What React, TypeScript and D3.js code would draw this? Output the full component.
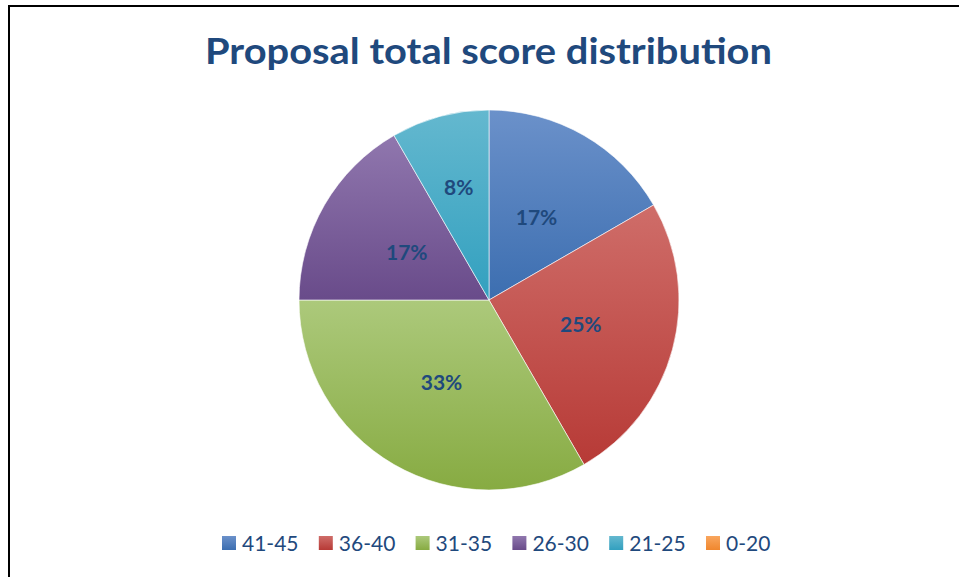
import React, { useEffect, useRef } from "react";
import * as d3 from "d3";

const categories = ["41-45", "36-40", "31-35", "26-30", "21-25", "0-20"];
const counts = [2, 3, 4, 2, 1, 0];
const title = "Proposal total score distribution";

// top / bottom gradient stops per slice (Excel 2007 style)
const colorsTop = ["#6b91ca", "#cf6d69", "#acc97b", "#9077ae", "#64b8cf", "#f9a65e"];
const colorsBottom = ["#3c6eb0", "#b73a36", "#87ab42", "#694b8a", "#32a0bf", "#f0872e"];

const W = 959;
const H = 577;

export default function App() {
  const ref = useRef<SVGSVGElement>(null);

  useEffect(() => {
    const svg = d3.select(ref.current);
    svg.selectAll("*").remove();

    const cx = 489;
    const cy = 300;
    const radius = 190;
    const total = d3.sum(counts);

    const defs = svg.append("defs");
    categories.forEach((c, i) => {
      const g = defs
        .append("linearGradient")
        .attr("id", "grad" + i)
        .attr("x1", 0)
        .attr("y1", 0)
        .attr("x2", 0)
        .attr("y2", 1);
      g.append("stop").attr("offset", "0%").attr("stop-color", colorsTop[i]);
      g.append("stop").attr("offset", "100%").attr("stop-color", colorsBottom[i]);
    });

    // frame
    svg
      .append("path")
      .attr("d", `M9,${H} L9,6 L${W},6`)
      .attr("fill", "none")
      .attr("stroke", "#000")
      .attr("stroke-width", 2);

    svg
      .append("text")
      .attr("x", 488.5)
      .attr("y", 64)
      .attr("text-anchor", "middle")
      .attr("textLength", 567)
      .attr("lengthAdjust", "spacingAndGlyphs")
      .style("font-family", "Lato, 'Open Sans', sans-serif")
      .style("font-weight", "bold")
      .style("font-size", "37px")
      .style("fill", "#1f497d")
      .text(title);

    const pie = d3
      .pie<number>()
      .sort(null)
      .value((d) => d)
      .startAngle(0)
      .endAngle(2 * Math.PI);
    const arcs = pie(counts);
    const arc = d3.arc<d3.PieArcDatum<number>>().innerRadius(0).outerRadius(radius);
    // small slices get their label pushed outwards (best fit)
    const labelArc = (d: d3.PieArcDatum<number>) => {
      const share = d.value / total;
      const r = share < 0.1 ? radius * 1.23 : radius;
      return d3.arc<d3.PieArcDatum<number>>().innerRadius(0).outerRadius(r).centroid(d);
    };

    const g = svg.append("g").attr("transform", `translate(${cx},${cy})`);

    g.selectAll("path.slice")
      .data(arcs.filter((d) => d.value > 0))
      .enter()
      .append("path")
      .attr("class", "slice")
      .attr("d", arc)
      .attr("fill", (d) => `url(#grad${d.index})`)
      .attr("stroke", "#ffffff")
      .attr("stroke-width", 0.6);

    g.selectAll("text.lbl")
      .data(arcs.filter((d) => d.value > 0))
      .enter()
      .append("text")
      .attr("class", "lbl")
      .attr("transform", (d) => "translate(" + labelArc(d) + ")")
      .attr("text-anchor", "middle")
      .attr("dy", "0.36em")
      .style("font-family", "Lato, 'Open Sans', sans-serif")
      .style("font-weight", "bold")
      .style("font-size", "21px")
      .style("fill", "#1f497d")
      .text((d) => Math.round((d.value / total) * 100) + "%");

    // legend
    const legend = svg.append("g");
    const lx = d3.scalePoint<string>().domain(categories).range([222, 706]);
    const items = legend
      .selectAll("g")
      .data(categories)
      .enter()
      .append("g")
      .attr("transform", (d) => `translate(${lx(d)},543)`);
    items
      .append("rect")
      .attr("x", 0)
      .attr("y", -7)
      .attr("width", 14)
      .attr("height", 14)
      .attr("fill", (d, i) => `url(#grad${i})`);
    items
      .append("text")
      .attr("x", 20)
      .attr("y", 0)
      .attr("dy", "0.36em")
      .style("font-family", "Lato, 'Open Sans', sans-serif")
      .style("font-size", "21px")
      .style("fill", "#1f497d")
      .text((d) => d);
  }, []);

  return (
    <svg
      ref={ref}
      width={W}
      height={H}
      style={{ position: "absolute", left: 0, top: 0, background: "#fff" }}
    />
  );
}
